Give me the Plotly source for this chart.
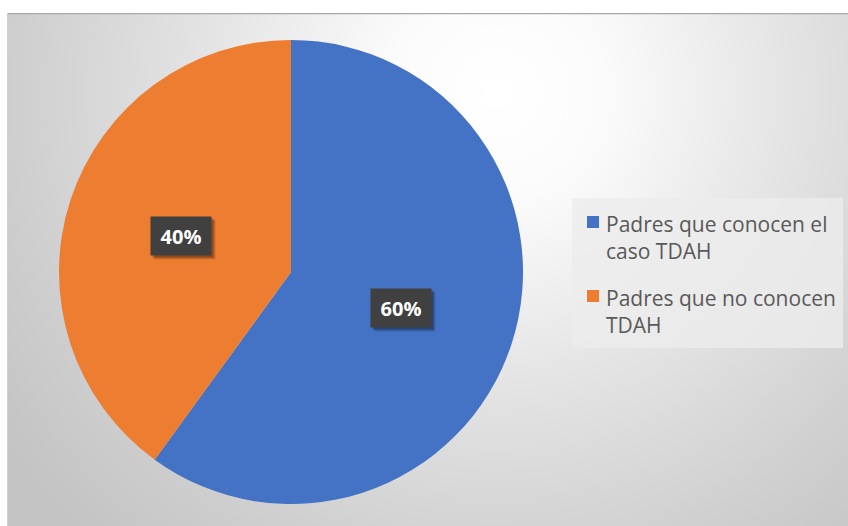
import base64
import math
import plotly.graph_objects as go

# Survey answers
categories = ["Padres que conocen el<br>caso TDAH", "Padres que no conocen<br>TDAH"]
values = [60, 40]
colors = ["#4472C4", "#ED7D31"]

W, H = 848, 526

# Chart-area backdrop: soft radial gradient, light near the top centre
bg_svg = """<svg xmlns='http://www.w3.org/2000/svg' width='841' height='513' viewBox='0 0 841 513' preserveAspectRatio='none'>
<defs>
<radialGradient id='g' gradientUnits='userSpaceOnUse' cx='490' cy='80' r='600'>
<stop offset='0' stop-color='#ffffff'/>
<stop offset='0.18' stop-color='#fbfbfb'/>
<stop offset='0.5' stop-color='#e3e3e3'/>
<stop offset='0.8' stop-color='#cfcfcf'/>
<stop offset='1' stop-color='#c4c4c4'/>
</radialGradient>
</defs>
<rect x='0' y='0' width='841' height='513' fill='url(#g)'/>
<line x1='0' y1='0.5' x2='841' y2='0.5' stroke='#a8a8a8' stroke-width='1.5'/>
<line x1='0.5' y1='0' x2='0.5' y2='513' stroke='#d0d0d0' stroke-width='1'/>
</svg>"""
bg_uri = "data:image/svg+xml;base64," + base64.b64encode(bg_svg.encode()).decode()

# Pie geometry in pixels
cx_px, cy_px, r_px = 291, 272, 232
dom_x = [(cx_px - r_px) / W, (cx_px + r_px) / W]
dom_y = [(H - cy_px - r_px) / H, (H - cy_px + r_px) / H]

fig = go.Figure(
    go.Pie(
        labels=categories,
        values=values,
        marker=dict(colors=colors, line=dict(width=0)),
        sort=False,
        direction="clockwise",
        rotation=0,
        textinfo="none",
        hoverinfo="label+percent",
        domain=dict(x=dom_x, y=dom_y),
        showlegend=False,
    )
)

# Percentage labels in dark boxes at each slice's mid-angle
total = sum(values)
start = 0.0
annotations = []
for v in values:
    frac = v / total
    mid = (start + frac / 2) * 2 * math.pi
    start += frac
    px = cx_px + 0.5 * r_px * math.sin(mid)
    py = cy_px - 0.5 * r_px * math.cos(mid)
    pct = f"{round(frac * 100)}%"
    # soft drop shadow
    for off, alpha in ((4, 0.10), (3, 0.15), (2, 0.2)):
        annotations.append(dict(
            x=(px + off) / W, y=(H - py - off) / H, xref="paper", yref="paper",
            xanchor="center", yanchor="middle",
            text=" ", showarrow=False, width=46, height=24,
            font=dict(family="Open Sans", size=20, color="rgba(0,0,0,0)"),
            bgcolor=f"rgba(0,0,0,{alpha})", borderpad=7,
        ))
    annotations.append(dict(
        x=px / W, y=(H - py) / H, xref="paper", yref="paper",
        xanchor="center", yanchor="middle",
        text=f"<b>{pct}</b>", showarrow=False, width=46, height=24,
        font=dict(family="Open Sans", size=20, color="#ffffff"),
        bgcolor="#404040", borderpad=7,
    ))

# Legend panel: swatch + wrapped label per category
shapes = [dict(
    type="rect", xref="paper", yref="paper",
    x0=572 / W, x1=843 / W, y0=1 - 348 / H, y1=1 - 198 / H,
    fillcolor="rgba(236,236,236,0.8)", line=dict(width=0), layer="below",
)]
leg_top, leg_step = 222, 74
for i, (name, col) in enumerate(zip(categories, colors)):
    yc = leg_top + i * leg_step
    shapes.append(dict(
        type="rect", xref="paper", yref="paper",
        x0=587 / W, x1=599 / W, y0=1 - (yc + 6) / H, y1=1 - (yc - 6) / H,
        fillcolor=col, line=dict(width=0),
    ))
    annotations.append(dict(
        x=604 / W, y=1 - (yc - 14) / H, xref="paper", yref="paper",
        xanchor="left", yanchor="top", align="left",
        text=name, showarrow=False,
        font=dict(family="Open Sans", size=21, color="#595959"),
    ))

fig.update_layout(
    width=W,
    height=H,
    margin=dict(l=0, r=0, t=0, b=0),
    paper_bgcolor="#ffffff",
    images=[dict(
        source=bg_uri, xref="paper", yref="paper",
        x=7 / W, y=1 - 13 / H, sizex=(W - 7) / W, sizey=(H - 13) / H,
        xanchor="left", yanchor="top", sizing="stretch", layer="below",
    )],
    shapes=shapes,
    annotations=annotations,
)

fig.write_html("out.html")
